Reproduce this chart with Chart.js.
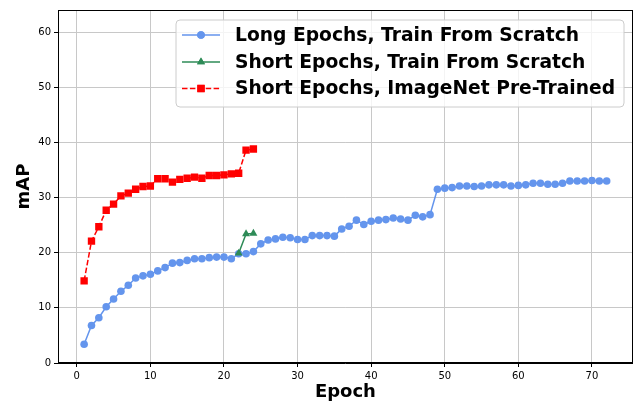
<!DOCTYPE html>
<html>
<head>
<meta charset="utf-8">
<script src="https://cdn.jsdelivr.net/npm/chart.js@4.4.1/dist/chart.umd.min.js"></script>
<style>
html,body{margin:0;padding:0;background:#fff;}
#wrap{width:638px;height:406px;}
</style>
</head>
<body>
<div id="wrap"><canvas id="c" width="638" height="406"></canvas></div>
<script>
const longEpochs = [1,2,3,4,5,6,7,8,9,10,11,12,13,14,15,16,17,18,19,20,21,22,23,24,25,26,27,28,29,30,31,32,33,34,35,36,37,38,39,40,41,42,43,44,45,46,47,48,49,50,51,52,53,54,55,56,57,58,59,60,61,62,63,64,65,66,67,68,69,70,71,72];
const longScratch = [3.4,6.8,8.2,10.2,11.6,13.0,14.1,15.4,15.8,16.1,16.7,17.3,18.1,18.2,18.6,18.9,18.9,19.1,19.2,19.2,18.9,19.8,19.8,20.2,21.6,22.3,22.5,22.8,22.7,22.4,22.4,23.1,23.1,23.1,23.0,24.3,24.8,25.9,25.1,25.7,25.9,26.0,26.3,26.1,25.9,26.8,26.5,26.9,31.5,31.7,31.8,32.1,32.1,32.0,32.1,32.3,32.3,32.3,32.1,32.2,32.3,32.6,32.6,32.4,32.4,32.6,33.0,33.0,33.0,33.1,33.0,33.0];
const shortEpochs = [22,23,24];
const shortScratch = [19.9,23.4,23.5];
const pretrainEpochs = [1,2,3,4,5,6,7,8,9,10,11,12,13,14,15,16,17,18,19,20,21,22,23,24];
const shortPretrained = [14.9,22.1,24.7,27.7,28.8,30.3,30.8,31.5,32.0,32.1,33.4,33.4,32.8,33.3,33.5,33.7,33.5,34.0,34.0,34.1,34.3,34.4,38.6,38.8];
const seriesNames = ['Long Epochs, Train From Scratch','Short Epochs, Train From Scratch','Short Epochs, ImageNet Pre-Trained'];
const xTicks = [0,10,20,30,40,50,60,70];
const yTicks = [0,10,20,30,40,50,60];

const BLUE = '#6495ED', GREEN = '#2E8B57', RED = '#FF0000';
const toPts = (xs, ys) => xs.map((x, i) => ({x: x, y: ys[i]}));

const frameLegend = {
  id: 'frameLegend',
  afterDatasetsDraw(chart) {
    const ctx = chart.ctx;
    ctx.save();
    const bx = 176, by = 20, bw = 448, bh = 87, r = 4;
    ctx.beginPath();
    ctx.moveTo(bx + r, by);
    ctx.arcTo(bx + bw, by, bx + bw, by + bh, r);
    ctx.arcTo(bx + bw, by + bh, bx, by + bh, r);
    ctx.arcTo(bx, by + bh, bx, by, r);
    ctx.arcTo(bx, by, bx + bw, by, r);
    ctx.closePath();
    ctx.fillStyle = 'rgba(255,255,255,0.8)';
    ctx.fill();
    ctx.strokeStyle = '#cccccc';
    ctx.lineWidth = 1;
    ctx.stroke();
    const items = chart.data.datasets;
    const rows = [35, 62, 88.5];
    items.forEach((ds, i) => {
      const y = rows[i];
      ctx.beginPath();
      ctx.setLineDash(ds.borderDash || []);
      ctx.strokeStyle = ds.borderColor;
      ctx.lineWidth = ds.borderWidth;
      ctx.moveTo(182, y);
      ctx.lineTo(220, y);
      ctx.stroke();
      ctx.setLineDash([]);
      ctx.fillStyle = ds.pointBackgroundColor;
      Chart.helpers.drawPoint(ctx, {pointStyle: ds.pointStyle, radius: ds.pointRadius, rotation: 0, borderWidth: 0}, 201, y);
      ctx.fill();
      ctx.fillStyle = '#000';
      ctx.font = 'bold 18.7px "DejaVu Sans"';
      ctx.textBaseline = 'middle';
      ctx.textAlign = 'left';
      ctx.fillText(ds.label, 235, y + 1);
    });
    ctx.restore();
  },
  afterDraw(chart) {
    const ctx = chart.ctx;
    const a = chart.chartArea;
    ctx.save();
    ctx.strokeStyle = '#000';
    ctx.lineWidth = 1;
    ctx.strokeRect(Math.round(a.left) + 0.5, Math.round(a.top) + 0.5, Math.round(a.right - a.left) - 1, Math.round(a.bottom - a.top) - 1);
    ctx.restore();
  }
};

new Chart(document.getElementById('c'), {
  type: 'line',
  data: {
    datasets: [
      {label: seriesNames[0], data: toPts(longEpochs, longScratch), borderColor: BLUE, backgroundColor: BLUE, pointBackgroundColor: BLUE, pointBorderWidth: 0, pointRadius: 3.8, pointStyle: 'circle', borderWidth: 1.5, order: 3},
      {label: seriesNames[1], data: toPts(shortEpochs, shortScratch), borderColor: GREEN, backgroundColor: GREEN, pointBackgroundColor: GREEN, pointBorderWidth: 0, pointRadius: 4.6, pointStyle: 'triangle', borderWidth: 1.5, order: 2},
      {label: seriesNames[2], data: toPts(pretrainEpochs, shortPretrained), borderColor: RED, backgroundColor: RED, pointBackgroundColor: RED, pointBorderWidth: 0, pointRadius: 5.2, pointStyle: 'rect', borderWidth: 1.5, borderDash: [5.5, 2.4], order: 1}
    ]
  },
  options: {
    responsive: false,
    animation: false,
    devicePixelRatio: 1,
    layout: {padding: {left: 0, right: 5, top: 10, bottom: 0}},
    plugins: {legend: {display: false}, tooltip: {enabled: false}},
    elements: {line: {tension: 0}},
    scales: {
      x: {
        type: 'linear', min: -2.55, max: 75.55,
        afterBuildTicks: s => { s.ticks = xTicks.map(v => ({value: v})); },
        afterFit: s => { s.height = 43; },
        grid: {color: '#c8c8c8', lineWidth: 1, tickColor: '#000', tickLength: 4, drawOnChartArea: true},
        border: {color: '#000', width: 1},
        ticks: {color: '#000', font: {family: 'DejaVu Sans', size: 10}, padding: 3, maxRotation: 0},
        title: {display: true, text: 'Epoch', color: '#000', font: {family: 'DejaVu Sans', size: 18, weight: 'bold'}, padding: {top: 0, bottom: 3}}
      },
      y: {
        type: 'linear', min: 0, max: 64,
        afterBuildTicks: s => { s.ticks = yTicks.map(v => ({value: v})); },
        afterFit: s => { s.width = 58; },
        grid: {color: '#c8c8c8', lineWidth: 1, tickColor: '#000', tickLength: 4},
        border: {color: '#000', width: 1},
        ticks: {color: '#000', font: {family: 'DejaVu Sans', size: 10}, padding: 3},
        title: {display: true, text: 'mAP', color: '#000', font: {family: 'DejaVu Sans', size: 18, weight: 'bold'}, padding: {top: 14, bottom: 0}}
      }
    }
  },
  plugins: [frameLegend]
});
</script>
</body>
</html>
